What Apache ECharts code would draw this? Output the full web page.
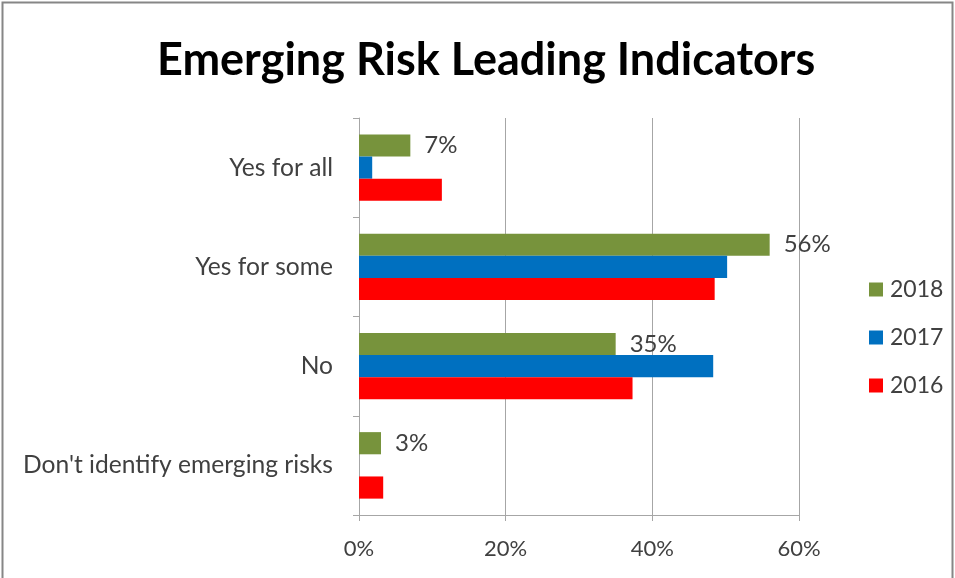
<!DOCTYPE html>
<html>
<head>
<meta charset="utf-8">
<style>
  html, body { margin: 0; padding: 0; background: #fff; }
  #chart { width: 955px; height: 578px; }
</style>
<script src="https://cdn.jsdelivr.net/npm/echarts@6/dist/echarts.min.js"></script>
</head>
<body>
<div id="chart"></div>
<script>
// Survey answers, top to bottom
const categories = ["Yes for all", "Yes for some", "No", "Don't identify emerging risks"];
// Share of respondents (%) per year
const values2018 = [7, 56, 35, 3];
const values2017 = [1.8, 50.2, 48.3, 0];
const values2016 = [11.3, 48.5, 37.3, 3.3];
const xTicks = [0, 20, 40, 60];

const FONT = "Lato, 'Open Sans', sans-serif";
const TEXT = "#404040";

const chart = echarts.init(document.getElementById('chart'), null, { renderer: 'canvas' });

function barSeries(name, data, color, showLabel) {
  return {
    name: name,
    type: 'bar',
    data: data,
    barGap: '0%',
    barCategoryGap: '33%',
    itemStyle: { color: color },
    label: {
      show: showLabel,
      position: 'right',
      distance: 14,
      color: TEXT,
      fontFamily: FONT,
      fontSize: 24,
      formatter: p => Math.round(p.value) + '%'
    },
    emphasis: { disabled: true },
    animation: false
  };
}

chart.setOption({
  animation: false,
  title: {
    text: 'Emerging Risk Leading Indicators',
    left: 152,
    top: 33,
    textStyle: { fontFamily: FONT, fontWeight: 'bold', fontSize: 45, color: '#000' }
  },
  graphic: [{
    type: 'rect',
    shape: { x: 2.5, y: 2.5, width: 950, height: 590 },
    style: { fill: 'none', stroke: '#868686', lineWidth: 2 },
    silent: true
  }],
  legend: {
    orient: 'vertical',
    left: 864,
    top: 273,
    itemWidth: 14,
    itemHeight: 14,
    itemGap: 25,
    icon: 'rect',
    data: ['2018', '2017', '2016'],
    textStyle: { fontFamily: FONT, fontSize: 23, color: TEXT, padding: [0, 0, 0, 2] }
  },
  grid: { left: 359, right: 156, top: 118, bottom: 63, containLabel: false },
  xAxis: {
    type: 'value',
    min: xTicks[0],
    max: xTicks[xTicks.length - 1],
    interval: 20,
    axisLine: { show: true, lineStyle: { color: '#a6a6a6', width: 1 } },
    axisTick: { show: true, length: 6, lineStyle: { color: '#a6a6a6' } },
    splitLine: { show: true, lineStyle: { color: '#a6a6a6', width: 1 } },
    axisLabel: {
      margin: 23,
      color: TEXT,
      fontFamily: FONT,
      fontSize: 22,
      formatter: v => v + '%'
    }
  },
  yAxis: {
    type: 'category',
    data: categories,
    inverse: true,
    axisLine: { show: true, lineStyle: { color: '#a6a6a6', width: 1 } },
    axisTick: { show: true, length: 6, lineStyle: { color: '#a6a6a6' } },
    axisLabel: { margin: 26, color: TEXT, fontFamily: FONT, fontSize: 24.6 }
  },
  series: [
    barSeries('2018', values2018, '#77933C', true),
    barSeries('2017', values2017, '#0070C0', false),
    barSeries('2016', values2016, '#FF0000', false)
  ]
});
</script>
</body>
</html>
